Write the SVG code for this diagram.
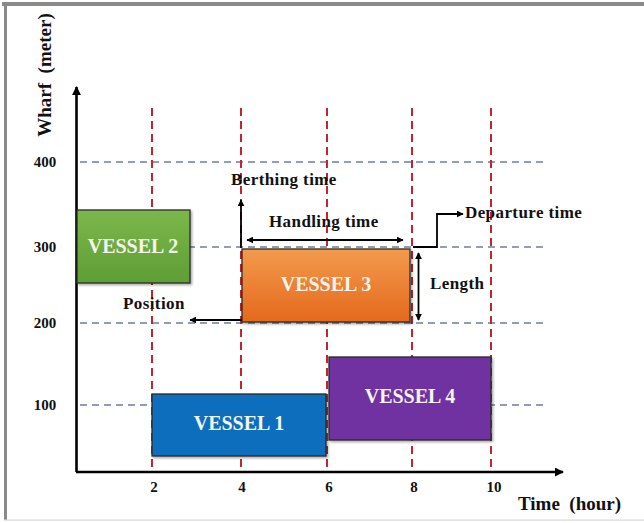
<svg xmlns="http://www.w3.org/2000/svg" width="644" height="523" viewBox="0 0 644 523">
<defs>
<style>
.lbl{font-family:"Liberation Serif","Times New Roman",serif;font-weight:bold;fill:#111}
.ann{font-size:17px;letter-spacing:0.4px}
.tick{font-size:15px;text-anchor:middle}
.vtxt{font-family:"Liberation Serif","Times New Roman",serif;font-weight:bold;font-size:20px;fill:#f4f4ec;text-anchor:middle}
.hgrid{stroke:#6b7f9e;stroke-width:1.6;stroke-dasharray:7 5;fill:none}
.vgrid{stroke:#c3242d;stroke-width:2;stroke-dasharray:8 5;fill:none}
.ln{stroke:#000;stroke-width:1.8;fill:none}
.vbox{stroke:#2a2a2a;stroke-width:1.3}
</style>
<marker id="ah" viewBox="0 0 10 10" refX="9" refY="5" markerWidth="7" markerHeight="7" markerUnits="userSpaceOnUse" orient="auto-start-reverse">
<path d="M0,0 L10,5 L0,10 z" fill="#000"/>
</marker>
<marker id="ahb" viewBox="0 0 10 10" refX="9" refY="5" markerWidth="9" markerHeight="9" markerUnits="userSpaceOnUse" orient="auto">
<path d="M0,0 L10,5 L0,10 z" fill="#000"/>
</marker>
<linearGradient id="gGreen" x1="0" y1="0" x2="0" y2="1">
<stop offset="0" stop-color="#7cb74a"/><stop offset="1" stop-color="#5f9e35"/>
</linearGradient>
<linearGradient id="gOrange" x1="0" y1="0" x2="0" y2="1">
<stop offset="0" stop-color="#f39a4c"/><stop offset="1" stop-color="#e4691d"/>
</linearGradient>
<filter id="sh" x="-5%" y="-5%" width="115%" height="120%">
<feDropShadow dx="1.5" dy="1.5" stdDeviation="1" flood-color="#000" flood-opacity="0.35"/>
</filter>
</defs>
<rect x="0" y="0" width="644" height="523" fill="#fff"/>
<g id="frame">
<rect x="2" y="2" width="642" height="4" fill="#8a8a8a"/>
<rect x="4" y="2" width="3" height="518" fill="#8a8a8a"/>
<rect x="4" y="519.5" width="640" height="1.2" fill="#d8d8d8"/>
</g>
<g id="grid">
<path class="hgrid" d="M80,162 H543 M80,247 H543 M80,323 H543 M80,405 H543"/>
<path class="vgrid" d="M152,108 V472 M241,108 V472 M327,108 V472 M412,108 V472 M491,108 V472"/>
</g>
<g id="axes">
<line x1="76.5" y1="472" x2="76.5" y2="87" stroke="#000" stroke-width="2.6" marker-end="url(#ahb)"/>
<line x1="76" y1="472" x2="563" y2="472" stroke="#000" stroke-width="2.6" marker-end="url(#ahb)"/>
<text class="lbl" font-size="19" text-anchor="middle" xml:space="preserve" transform="translate(51,75) rotate(-90)">Wharf  (meter)</text>
<text class="lbl" font-size="19" xml:space="preserve" x="518" y="510">Time  (hour)</text>
<text class="lbl tick" x="45" y="167">400</text>
<text class="lbl tick" x="45" y="252">300</text>
<text class="lbl tick" x="45" y="328">200</text>
<text class="lbl tick" x="45" y="410">100</text>
<text class="lbl tick" x="154" y="492">2</text>
<text class="lbl tick" x="242" y="492">4</text>
<text class="lbl tick" x="329" y="492">6</text>
<text class="lbl tick" x="414" y="492">8</text>
<text class="lbl tick" x="494" y="492">10</text>
</g>
<g id="vessel2">
<rect class="vbox" x="77" y="210" width="113" height="73" fill="url(#gGreen)" filter="url(#sh)"/>
<text class="vtxt" x="133" y="253">VESSEL 2</text>
</g>
<g id="vessel3">
<rect class="vbox" x="242" y="249" width="168" height="73" fill="url(#gOrange)" filter="url(#sh)"/>
<text class="vtxt" x="326" y="291">VESSEL 3</text>
</g>
<g id="vessel1">
<rect class="vbox" x="152" y="394" width="174" height="62" fill="#0c6ebd" filter="url(#sh)"/>
<text class="vtxt" x="239" y="430">VESSEL 1</text>
</g>
<g id="vessel4">
<rect class="vbox" x="329" y="357" width="162" height="83" fill="#7030a0" filter="url(#sh)"/>
<text class="vtxt" x="410" y="403">VESSEL 4</text>
</g>
<g id="connectors">
<line class="ln" x1="241" y1="248" x2="241" y2="200" marker-end="url(#ah)"/>
<line class="ln" x1="247" y1="240" x2="403" y2="240" marker-start="url(#ah)" marker-end="url(#ah)"/>
<polyline class="ln" points="413,247 437,247 437,214 463,214" marker-end="url(#ah)"/>
<line class="ln" x1="418.5" y1="253" x2="418.5" y2="320" marker-start="url(#ah)" marker-end="url(#ah)"/>
<line class="ln" x1="242" y1="320" x2="190" y2="320" marker-end="url(#ah)"/>
</g>
<g id="annotations">
<text class="lbl ann" x="231" y="185">Berthing time</text>
<text class="lbl ann" x="269" y="227">Handling time</text>
<text class="lbl ann" x="465" y="218">Departure time</text>
<text class="lbl ann" x="430" y="289">Length</text>
<text class="lbl ann" x="123" y="309">Position</text>
</g>
</svg>
